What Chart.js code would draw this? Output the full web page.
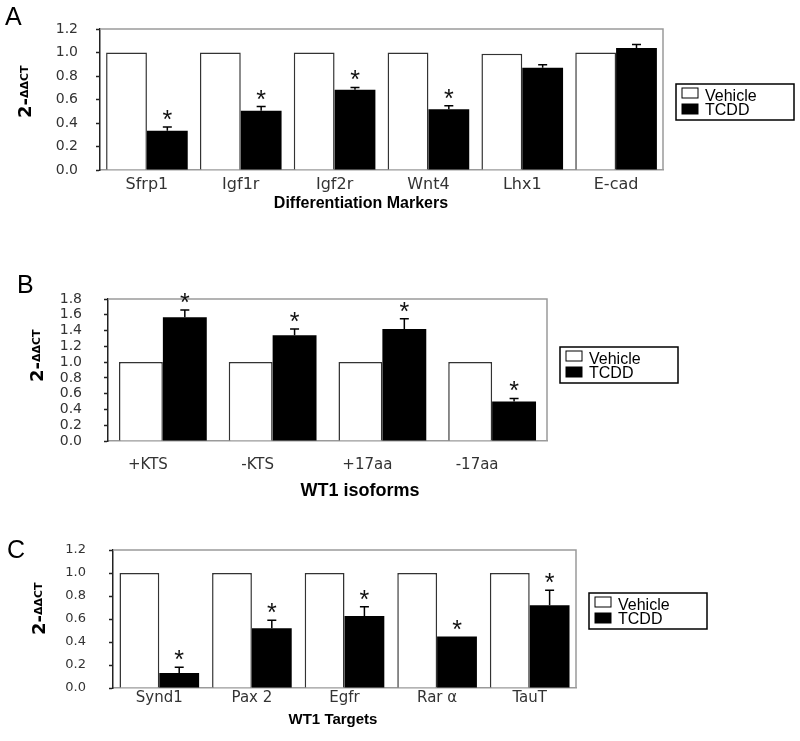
<!DOCTYPE html>
<html>
<head>
<meta charset="utf-8">
<script src="https://cdn.jsdelivr.net/npm/chart.js@4.4.1/dist/chart.umd.min.js"></script>
<style>
body{margin:0;background:#fff;}
canvas{position:absolute;left:0;}
</style>
</head>
<body>
<canvas id="chartA" width="800" height="230" style="top:0px"></canvas>
<canvas id="chartB" width="800" height="275" style="top:230px"></canvas>
<canvas id="chartC" width="800" height="236" style="top:505px"></canvas>
<script>
//dati pannello A
const marcatori = ['Sfrp1', 'Igf1r', 'Igf2r', 'Wnt4', 'Lhx1', 'E-cad'];
const marcatoriVeicolo = [1.0, 1.0, 1.0, 1.0, 0.99, 1.0];
const marcatoriTcdd = [0.335, 0.505, 0.683, 0.518, 0.87, 1.038];
const marcatoriErr = [0.03, 0.035, 0.02, 0.028, 0.025, 0.03];
const marcatoriSig = [true, true, true, true, false, false];
const tickA = [0.0, 0.2, 0.4, 0.6, 0.8, 1.0, 1.2];

//dati pannello B
const isoforme = ['+KTS', '-KTS', '+17aa', '-17aa'];
const isoformeVeicolo = [1.0, 1.0, 1.0, 1.0];
const isoformeTcdd = [1.57, 1.34, 1.42, 0.5];
const isoformeErr = [0.09, 0.08, 0.13, 0.04];
const isoformeSig = [true, true, true, true];
const tickB = [0.0, 0.2, 0.4, 0.6, 0.8, 1.0, 1.2, 1.4, 1.6, 1.8];

//dati pannello C
const bersagli = ['Synd1', 'Pax 2', 'Egfr', 'Rar α', 'TauT'];
const bersagliVeicolo = [1.0, 1.0, 1.0, 1.0, 1.0];
const bersagliTcdd = [0.13, 0.52, 0.626, 0.447, 0.72];
const bersagliErr = [0.05, 0.07, 0.08, 0.0, 0.13];
const bersagliSig = [true, true, true, true, true];
const tickC = [0.0, 0.2, 0.4, 0.6, 0.8, 1.0, 1.2];

const serie = ['Vehicle', 'TCDD'];

//plugin: cornice, barre d'errore, asterischi, legenda e titoli
const decorazioni = {
    id: 'decorazioni',
    beforeDatasetsDraw(chart, args, o) {
        const ctx = chart.ctx;
        const a = chart.chartArea;
        ctx.save();
        ctx.strokeStyle = '#9a9a9a';
        ctx.lineWidth = 1.5;
        ctx.beginPath();
        ctx.moveTo(a.left, a.top);
        ctx.lineTo(a.right, a.top);
        ctx.lineTo(a.right, a.bottom);
        ctx.stroke();
        ctx.restore();
    },
    afterDraw(chart, args, o) {
        const ctx = chart.ctx;
        const a = chart.chartArea;
        const y = chart.scales.y;
        const meta = chart.getDatasetMeta(1);
        const valori = chart.data.datasets[1].data;
        ctx.save();

        //barre d'errore e asterischi
        for (let i = 0; i < valori.length; i++) {
            const bar = meta.data[i];
            const cima = y.getPixelForValue(valori[i] + o.err[i]);
            if (o.err[i] > 0) {
                ctx.strokeStyle = '#000';
                ctx.lineWidth = 1.5;
                ctx.beginPath();
                ctx.moveTo(bar.x, bar.y);
                ctx.lineTo(bar.x, cima);
                ctx.moveTo(bar.x - 4.5, cima);
                ctx.lineTo(bar.x + 4.5, cima);
                ctx.stroke();
            }
            if (o.sig[i]) {
                ctx.fillStyle = '#111';
                ctx.font = '25px "Liberation Sans"';
                ctx.textAlign = 'center';
                ctx.textBaseline = 'alphabetic';
                ctx.fillText('*', bar.x, cima + 1);
            }
        }

        //legenda
        const lx = a.right + 13;
        const ly = a.top + o.legendaTop;
        ctx.strokeStyle = '#000';
        ctx.lineWidth = 1.5;
        ctx.strokeRect(lx, ly, 118, 36);
        chart.data.datasets.forEach((ds, i) => {
            const sy = ly + 4 + i * 16;
            ctx.fillStyle = ds.backgroundColor;
            ctx.fillRect(lx + 6, sy, 16, 10);
            ctx.lineWidth = 1;
            ctx.strokeRect(lx + 6, sy, 16, 10);
            ctx.fillStyle = '#000';
            ctx.font = '16px "Liberation Sans"';
            ctx.textAlign = 'left';
            ctx.textBaseline = 'alphabetic';
            ctx.fillText(ds.label, lx + 29, ly + 17 + i * 14);
        });

        //lettera del pannello
        ctx.fillStyle = '#000';
        ctx.font = '25px "Liberation Sans"';
        ctx.textAlign = 'left';
        ctx.fillText(o.lettera, o.letteraX, o.letteraY);

        //titolo asse x
        ctx.font = 'bold ' + o.titoloXSize + 'px "Liberation Sans"';
        ctx.textAlign = 'center';
        ctx.textBaseline = 'middle';
        ctx.fillText(o.titoloX, o.titoloXx, o.titoloXy);

        //titolo asse y con apice
        ctx.translate(o.titoloYx, o.titoloYy);
        ctx.rotate(-Math.PI / 2);
        ctx.textAlign = 'left';
        ctx.font = 'bold 18px "DejaVu Sans"';
        ctx.fillText('2-', 0, 0);
        const w = ctx.measureText('2-').width;
        ctx.font = 'bold 11px "DejaVu Sans"';
        ctx.fillText('ΔΔCT', w, -1);
        ctx.restore();
    }
};

function creaGrafico(id, categorie, veicolo, tcdd, tick, opz) {
    return new Chart(document.getElementById(id), {
        type: 'bar',
        data: {
            labels: categorie,
            datasets: [{
                label: serie[0],
                data: veicolo,
                backgroundColor: '#ffffff',
                borderColor: '#333333',
                borderWidth: 1.5
            }, {
                label: serie[1],
                data: tcdd,
                backgroundColor: '#000000',
                borderWidth: 0
            }]
        },
        options: {
            responsive: false,
            animation: false,
            events: [],
            categoryPercentage: opz.catPerc,
            barPercentage: 1.0,
            layout: { padding: { top: opz.top, left: 0, right: opz.destra, bottom: 0 } },
            plugins: {
                legend: { display: false },
                tooltip: { enabled: false },
                decorazioni: opz.deco
            },
            scales: {
                x: {
                    afterFit: (ax) => { ax.height = opz.altezzaX; },
                    grid: { drawOnChartArea: false, drawTicks: false },
                    border: { color: '#9a9a9a', width: 1.5 },
                    ticks: {
                        color: '#333',
                        padding: opz.padX,
                        autoSkip: false,
                        maxRotation: 0,
                        labelOffset: opz.offsetEtichette,
                        font: { family: 'DejaVu Sans', size: opz.tickXSize }
                    }
                },
                y: {
                    min: 0,
                    max: tick[tick.length - 1],
                    afterFit: (ax) => { ax.width = opz.sinistra; },
                    afterBuildTicks: (ax) => { ax.ticks = tick.map(v => ({ value: v })); },
                    grid: { drawOnChartArea: false, drawTicks: true, tickLength: 4, color: '#222', tickWidth: 1.5 },
                    border: { color: '#222', width: 1.5 },
                    ticks: {
                        color: '#333',
                        autoSkip: false,
                        padding: opz.tickPad,
                        font: { family: 'DejaVu Sans', size: opz.tickYSize },
                        callback: (v) => Number(v).toFixed(1)
                    }
                }
            }
        },
        plugins: [decorazioni]
    });
}

//gestione grafici
creaGrafico('chartA', marcatori, marcatoriVeicolo, marcatoriTcdd, tickA, {
    top: 29, sinistra: 100, destra: 137, altezzaX: 60, catPerc: 0.87,
    tickXSize: 16, tickYSize: 14, tickPad: 18, padX: 5, offsetEtichette: 0,
    deco: {
        err: marcatoriErr, sig: marcatoriSig, legendaTop: 55,
        lettera: 'A', letteraX: 5, letteraY: 25,
        titoloX: 'Differentiation Markers', titoloXSize: 16, titoloXx: 361, titoloXy: 204,
        titoloYx: 26, titoloYy: 118
    }
});

creaGrafico('chartB', isoforme, isoformeVeicolo, isoformeTcdd, tickB, {
    top: 69, sinistra: 108, destra: 253, altezzaX: 64, catPerc: 0.8,
    tickXSize: 15, tickYSize: 14, tickPad: 22, padX: 15, offsetEtichette: -15,
    deco: {
        err: isoformeErr, sig: isoformeSig, legendaTop: 48,
        lettera: 'B', letteraX: 17, letteraY: 63,
        titoloX: 'WT1 isoforms', titoloXSize: 18, titoloXx: 360, titoloXy: 261,
        titoloYx: 38, titoloYy: 152
    }
});

creaGrafico('chartC', bersagli, bersagliVeicolo, bersagliTcdd, tickC, {
    top: 45, sinistra: 113, destra: 224, altezzaX: 53, catPerc: 0.86,
    tickXSize: 15, tickYSize: 13, tickPad: 23, padX: 1, offsetEtichette: 0,
    deco: {
        err: bersagliErr, sig: bersagliSig, legendaTop: 43,
        lettera: 'C', letteraX: 7, letteraY: 53,
        titoloX: 'WT1 Targets', titoloXSize: 15, titoloXx: 333, titoloXy: 215,
        titoloYx: 40, titoloYy: 130
    }
});
</script>
</body>
</html>
